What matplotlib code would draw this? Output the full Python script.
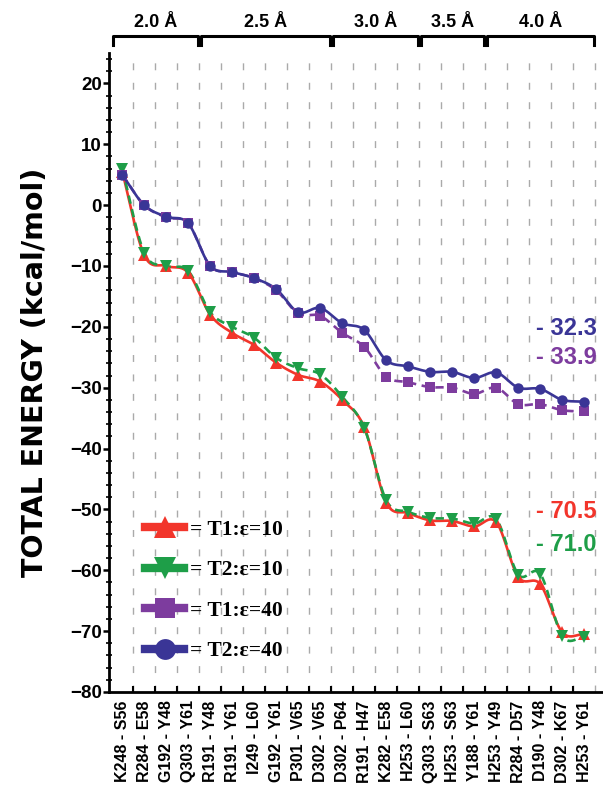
import numpy as np
import matplotlib
matplotlib.use("Agg")
import matplotlib.pyplot as plt
from matplotlib.lines import Line2D
from matplotlib.ticker import MultipleLocator, FixedLocator

plt.rcParams['font.family'] = ['Liberation Sans', 'DejaVu Sans']
plt.rcParams['lines.scale_dashes'] = False

pairs = ["K248 - S56", "R284 - E58", "G192 - Y48", "Q303 - Y61", "R191 - Y48",
         "R191 - Y61", "I249 - L60", "G192 - Y61", "P301 - V65", "D302 - V65",
         "D302 - P64", "R191 - H47", "K282 - E58", "H253 - L60", "Q303 - S63",
         "H253 - S63", "Y188 - Y61", "H253 - Y49", "R284 - D57", "D190 - Y48",
         "D302 - K67", "H253 - Y61"]

t1_e10 = [5.5, -8.2, -10.0, -11.1, -18.0, -21.0, -23.0, -25.9, -27.9, -29.0, -32.0,
          -36.5, -48.9, -50.6, -51.8, -51.9, -52.8, -52.1, -61.1, -62.3, -70.2, -70.5]
t2_e10 = [6.0, -7.8, -10.0, -10.8, -17.6, -20.0, -21.8, -25.1, -26.8, -27.8, -31.5,
          -36.6, -48.5, -50.4, -51.4, -51.5, -52.3, -51.6, -60.7, -60.6, -70.8, -71.0]
t1_e40 = [5.0, 0.0, -2.0, -3.0, -10.0, -11.0, -12.0, -14.0, -17.8, -18.2, -21.0,
          -23.3, -28.2, -29.1, -29.9, -30.0, -31.0, -30.0, -32.7, -32.7, -33.7, -33.9]
t2_e40 = [5.0, 0.0, -1.9, -3.0, -10.0, -11.0, -12.0, -13.8, -17.6, -16.9, -19.4,
          -20.5, -25.5, -26.5, -27.4, -27.4, -28.4, -27.5, -30.0, -30.2, -32.0, -32.3]

groups = ["2.0 Å", "2.5 Å", "3.0 Å", "3.5 Å", "4.0 Å"]
group_start = [0, 4, 10, 14, 17]
group_end = [3, 9, 13, 16, 21]

final_labels = ["- 32.3", "- 33.9", "- 70.5", "- 71.0"]

RED = "#F2352B"
GREEN = "#1E9E48"
PURPLE = "#7D3C9E"
BLUE = "#3A3596"


def smooth(x, y, n=24):
    x = np.asarray(x, float)
    y = np.asarray(y, float)
    m = np.zeros_like(y)
    m[1:-1] = (y[2:] - y[:-2]) / (x[2:] - x[:-2])
    m[0] = (y[1] - y[0]) / (x[1] - x[0])
    m[-1] = (y[-1] - y[-2]) / (x[-1] - x[-2])
    xs, ys = [], []
    for i in range(len(x) - 1):
        h = x[i + 1] - x[i]
        t = np.linspace(0, 1, n, endpoint=False)
        h00 = 2 * t**3 - 3 * t**2 + 1
        h10 = t**3 - 2 * t**2 + t
        h01 = -2 * t**3 + 3 * t**2
        h11 = t**3 - t**2
        xs.append(x[i] + t * h)
        ys.append(h00 * y[i] + h10 * h * m[i] + h01 * y[i + 1] + h11 * h * m[i + 1])
    xs.append([x[-1]])
    ys.append([y[-1]])
    return np.concatenate(xs), np.concatenate(ys)


fig = plt.figure(figsize=(6.03, 8.06), dpi=100)
ax = fig.add_axes([109 / 603, 1 - 692 / 806, (603 - 109) / 603, (692 - 53) / 806])

x = np.arange(len(pairs))

# grid lines at midpoints
for g in np.arange(len(pairs)) + 0.5:
    ax.axvline(g, color="#AAAAAA", lw=1.0, linestyle=(0, (5, 9)), zorder=0)

series = [
    (t1_e10, RED, "^", "-", 8.5),
    (t2_e10, GREEN, "v", (0, (6, 4)), 8.5),
    (t1_e40, PURPLE, "s", (0, (6, 4)), 6.5),
    (t2_e40, BLUE, "o", "-", 7.5),
]
for vals, col, mk, ls, ms in series:
    sx, sy = smooth(x, vals)
    ax.plot(sx, sy, color=col, lw=1.9, linestyle=ls, zorder=2)
    ax.plot(x, vals, linestyle="none", marker=mk, color=col, ms=ms, zorder=3,
            markeredgewidth=0)

ax.set_xlim(-0.6, 21.85)
ax.set_ylim(-80, 25)

ax.spines['top'].set_visible(False)
ax.spines['right'].set_visible(False)
ax.spines['left'].set_linewidth(2.0)
ax.spines['bottom'].set_linewidth(2.0)

ax.yaxis.set_minor_locator(MultipleLocator(2))
ax.set_yticks(np.arange(-80, 21, 10))
ax.tick_params(axis='y', which='major', direction='out', length=4, width=1.8,
               labelsize=13.5, pad=1)
ax.tick_params(axis='y', which='minor', direction='inout', length=4, width=1.2)
for lab in ax.get_yticklabels():
    lab.set_fontweight('bold')

ax.set_xticks(x)
ax.set_xticklabels(pairs, rotation=90, fontsize=11.5, fontweight='bold')
ax.xaxis.set_minor_locator(FixedLocator(np.arange(len(pairs) - 1) + 0.5))
ax.tick_params(axis='x', which='major', length=0, pad=6)
ax.tick_params(axis='x', which='minor', direction='in', length=4, width=1.5)

ax.set_ylabel("TOTAL ENERGY (kcal/mol)", fontsize=20.5, fontweight='bold', labelpad=15,
              family=['DejaVu Sans'])

# group brackets
for name, s, e in zip(groups, group_start, group_end):
    x0, x1 = s - 0.4, e + 0.45
    y0, y1 = 26.3, 27.8
    ax.plot([x0, x0, x1, x1], [y0, y1, y1, y0], color="black", lw=2.2,
            clip_on=False, solid_joinstyle='round')
    ax.text((x0 + x1) / 2, 30.0, name, ha='center', va='center', fontsize=13,
            fontweight='bold')

# final value annotations
ax.text(21.55, -20.2, final_labels[0], color=BLUE, fontsize=17, fontweight='bold',
        ha='right', va='center')
ax.text(21.55, -25.1, final_labels[1], color=PURPLE, fontsize=17, fontweight='bold',
        ha='right', va='center')
ax.text(21.55, -50.4, final_labels[2], color=RED, fontsize=17, fontweight='bold',
        ha='right', va='center')
ax.text(21.55, -55.8, final_labels[3], color=GREEN, fontsize=17, fontweight='bold',
        ha='right', va='center')

handles = [
    Line2D([], [], color=RED, lw=6, marker="^", ms=16, markeredgewidth=0),
    Line2D([], [], color=GREEN, lw=6, marker="v", ms=16, markeredgewidth=0),
    Line2D([], [], color=PURPLE, lw=6, marker="s", ms=14, markeredgewidth=0),
    Line2D([], [], color=BLUE, lw=6, marker="o", ms=15, markeredgewidth=0),
]
leg_labels = ["= T1:ε=10", "= T2:ε=10", "= T1:ε=40", "= T2:ε=40"]
leg = ax.legend(handles, leg_labels, loc='upper left', bbox_to_anchor=(0.034, 0.30),
                frameon=False, handlelength=1.8, handletextpad=0.3, labelspacing=0.95,
                prop={'family': ['Liberation Serif', 'DejaVu Serif'], 'weight': 'bold',
                      'size': 15.5})

fig.savefig("out.png", dpi=100)
